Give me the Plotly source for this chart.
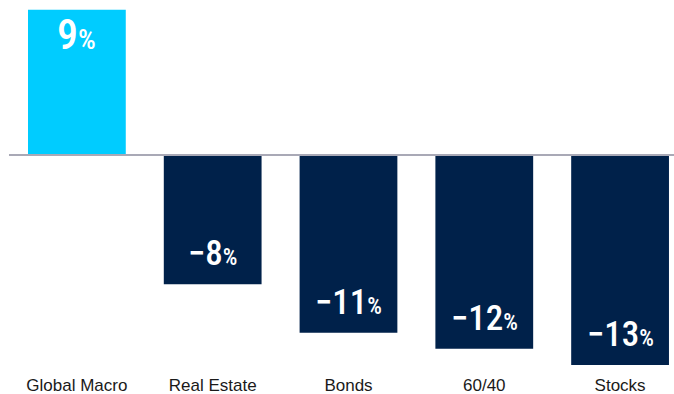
import plotly.graph_objects as go

# Returns by strategy (%)
categories = ["Global Macro", "Real Estate", "Bonds", "60/40", "Stocks"]
returns = [9, -8, -11, -12, -13]
bar_colors = ["#00CCFF", "#00214A", "#00214A", "#00214A", "#00214A"]

LABEL_FONT = "Roboto Condensed, Open Sans Condensed, sans-serif"

fig = go.Figure()
fig.add_trace(go.Bar(
    x=categories,
    y=returns,
    marker=dict(color=bar_colors, line=dict(width=0)),
    width=0.72,
    hoverinfo="skip",
))

# value labels inside the bars: big number, smaller percent sign
for cat, val in zip(categories, returns):
    big = 42 if val > 0 else 35
    small = 28 if val > 0 else 23
    sign = "" if val >= 0 else "\u2212"
    text = f"{sign}{abs(val)}<span style='font-size:{small}px'>%</span>"
    fig.add_annotation(
        x=cat, y=val, xref="x", yref="y",
        text=text, showarrow=False,
        font=dict(family=LABEL_FONT, size=big, color="white", weight=500),
        yanchor="top" if val > 0 else "bottom",
        yshift=2 if val > 0 else 8,
    )

# zero baseline
fig.add_shape(
    type="line", xref="x", yref="y",
    x0=-0.5, x1=4.6, y0=0, y1=0,
    line=dict(color="#A9A9B6", width=2),
    layer="above",
)

fig.update_layout(
    width=674, height=394,
    margin=dict(l=0, r=0, t=0, b=24),
    paper_bgcolor="white",
    plot_bgcolor="white",
    showlegend=False,
    xaxis=dict(
        range=[-77 / 136, 4 + 54 / 136],
        showgrid=False, zeroline=False, showline=False,
        ticks="", ticklabelstandoff=3,
        tickfont=dict(family="Liberation Sans, Arial, sans-serif", size=17, color="#1A1A1A"),
    ),
    yaxis=dict(
        range=[-(370 - 155) / 16.15, 155 / 16.15],
        showgrid=False, zeroline=False, showline=False,
        showticklabels=False, ticks="",
    ),
)

fig.write_html("out.html")
